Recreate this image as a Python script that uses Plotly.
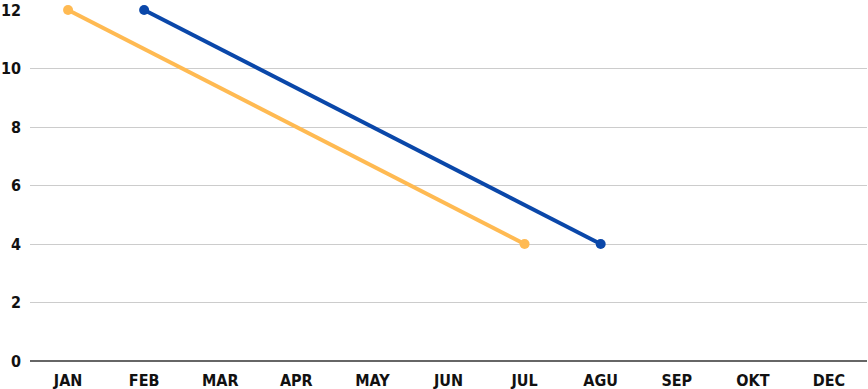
import plotly.graph_objects as go

months = ["JAN", "FEB", "MAR", "APR", "MAY", "JUN", "JUL", "AGU", "SEP", "OKT", "DEC"]
series_orange = [12, None, None, None, None, None, 4, None, None, None, None]
series_blue = [None, 12, None, None, None, None, None, 4, None, None, None]
y_ticks = [0, 2, 4, 6, 8, 10, 12]

FAMILY = "DejaVu Sans Condensed, sans-serif"
x_font = dict(family=FAMILY, size=16, color="#111111", weight="bold")
y_font = dict(family=FAMILY, size=16, color="#111111", weight="bold")

fig = go.Figure()
fig.add_trace(go.Scatter(x=months, y=series_orange, mode="lines+markers", connectgaps=True,
                         line=dict(color="#FFBA52", width=4), marker=dict(size=10, color="#FFBA52"),
                         cliponaxis=False, showlegend=False))
fig.add_trace(go.Scatter(x=months, y=series_blue, mode="lines+markers", connectgaps=True,
                         line=dict(color="#0A47A9", width=4), marker=dict(size=10, color="#0A47A9"),
                         cliponaxis=False, showlegend=False))

fig.update_layout(
    width=868, height=389,
    margin=dict(l=30, r=1, t=10, b=28, autoexpand=False),
    plot_bgcolor="white", paper_bgcolor="white",
    font=dict(family=FAMILY, size=16, color="#111111"),
)
fig.update_xaxes(type="category", categoryorder="array", categoryarray=months,
                 range=[-0.5, 10.5], showgrid=False, zeroline=False, showline=False,
                 tickfont=x_font, ticks="", ticklabelstandoff=8, automargin=False)
fig.update_yaxes(range=[0, 12], tickvals=y_ticks, showgrid=True, gridcolor="#cccccc", gridwidth=1,
                 zeroline=True, zerolinecolor="#666666", zerolinewidth=1.5, showline=False,
                 tickfont=y_font, ticks="", ticklabelstandoff=8, automargin=False)

# remove the default 8px page margin so the figure fills the window exactly
fig.write_html("out.html", config={"displayModeBar": False},
               post_script="document.body.style.margin='0';")
